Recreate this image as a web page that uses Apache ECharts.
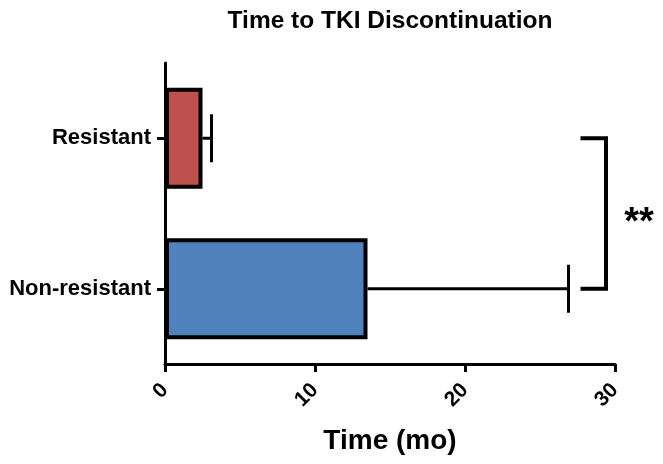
<!DOCTYPE html>
<html>
<head>
<meta charset="utf-8">
<script src="https://cdn.jsdelivr.net/npm/echarts@6/dist/echarts.min.js"></script>
<style>
html,body{margin:0;padding:0;background:#fff;}
#chart{width:663px;height:464px;}
</style>
</head>
<body>
<div id="chart"></div>
<script>
const categories = ['Resistant', 'Non-resistant'];
const means = [2.5, 13.5];
const errorHigh = [3.1, 26.9];
const barColors = ['#C0504D', '#4F81BD'];
const xTicks = [0, 10, 20, 30];
const bracketFrom = 27.7;
const bracketTo = 29.4;
const significance = '**';

const FONT = 'Liberation Sans, Arial, Helvetica, sans-serif';
const chart = echarts.init(document.getElementById('chart'));

const errorData = categories.map((c, i) => [errorHigh[i], i, means[i]]);

chart.setOption({
  animation: false,
  backgroundColor: '#fff',
  graphic: [{
    type: 'text',
    x: 390,
    y: 9,
    style: {
      text: 'Time to TKI Discontinuation',
      textAlign: 'center',
      fontFamily: FONT, fontWeight: 'bold', fontSize: 24.5, fill: '#000'
    }
  }],
  grid: {left: 165, right: 48, top: 63, bottom: 100, containLabel: false, outerBoundsMode: 'none'},
  xAxis: {
    type: 'value', min: xTicks[0], max: xTicks[xTicks.length - 1], interval: 10,
    splitLine: {show: false},
    axisLine: {show: true, lineStyle: {color: '#000', width: 3}},
    axisTick: {show: true, length: 8, lineStyle: {color: '#000', width: 3}},
    axisLabel: {rotate: 45, margin: 23, fontFamily: FONT, fontWeight: 'bold', fontSize: 21, color: '#000'},
    name: 'Time (mo)', nameLocation: 'middle', nameGap: 63,
    nameTextStyle: {fontFamily: FONT, fontWeight: 'bold', fontSize: 28, color: '#000'}
  },
  yAxis: {
    type: 'category', data: categories, inverse: true,
    axisLine: {show: true, lineStyle: {color: '#000', width: 3}},
    axisTick: {show: true, alignWithLabel: true, length: 8, lineStyle: {color: '#000', width: 3}},
    axisLabel: {margin: 14, fontFamily: FONT, fontWeight: 'bold', fontSize: 22, color: '#000'},
    splitLine: {show: false}
  },
  series: [
    {
      type: 'custom',
      z: 1,
      data: errorData,
      encode: {x: 0, y: 1},
      renderItem: function (params, api) {
        const hi = api.coord([api.value(0), api.value(1)]);
        const lo = api.coord([api.value(2), api.value(1)]);
        const h = 24;
        return {
          type: 'group',
          children: [
            {type: 'line', shape: {x1: lo[0], y1: lo[1], x2: hi[0], y2: hi[1]}, style: {stroke: '#000', lineWidth: 3}},
            {type: 'line', shape: {x1: hi[0], y1: hi[1] - h, x2: hi[0], y2: hi[1] + h}, style: {stroke: '#000', lineWidth: 3}}
          ]
        };
      }
    },
    {
      type: 'bar',
      z: 2,
      barWidth: 101,
      data: means.map((v, i) => ({value: v, itemStyle: {color: barColors[i], borderColor: '#000', borderWidth: 4}}))
    },
    {
      type: 'custom',
      z: 3,
      clip: false,
      data: [[bracketFrom, 0]],
      encode: {x: 0, y: 1},
      renderItem: function (params, api) {
        const a = api.coord([bracketFrom, 0]);
        const b = api.coord([bracketTo, 0]);
        const c = api.coord([bracketTo, 1]);
        const d = api.coord([bracketFrom, 1]);
        return {
          type: 'group',
          children: [
            {type: 'polyline', shape: {points: [a, b, c, d]}, style: {stroke: '#000', lineWidth: 4, fill: null}},
            {type: 'text', x: b[0] + 33, y: (b[1] + c[1]) / 2 + 10,
             style: {text: significance, textAlign: 'center', textVerticalAlign: 'middle', fontFamily: FONT, fontWeight: 'bold', fontSize: 38, fill: '#000'}}
          ]
        };
      }
    }
  ]
});
</script>
</body>
</html>
